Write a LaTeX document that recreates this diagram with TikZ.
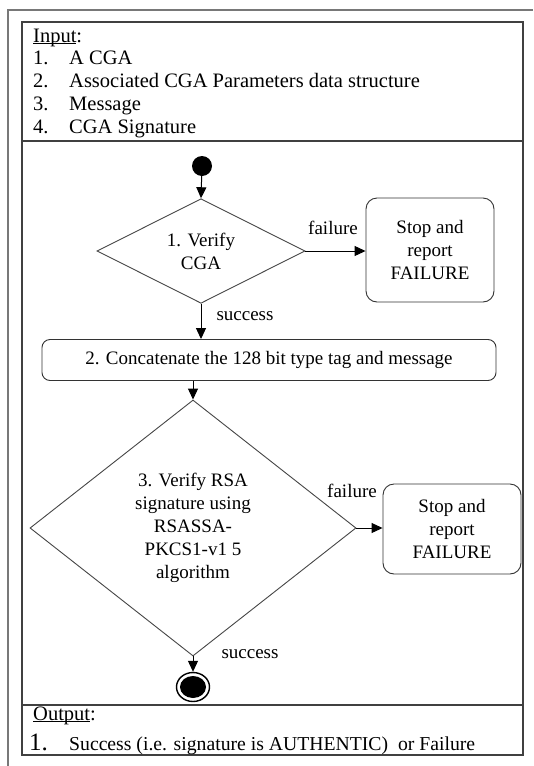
\documentclass[tikz,border=0pt]{standalone}
\usepackage{fontspec}
\setmainfont{Liberation Serif}
\usetikzlibrary{shapes.geometric,arrows.meta}

\definecolor{framegray}{RGB}{120,120,120}
\definecolor{linegray}{RGB}{70,70,70}

% underline set just below the baseline, through descenders
\newcommand\headul[1]{\setbox0\hbox{#1}\rlap{\rule[-2.2pt]{\wd0}{0.8pt}}\box0}

\begin{document}
\begin{tikzpicture}[x=1pt,y=-1pt,
  every node/.style={font=\fontsize{19}{23}\selectfont, inner sep=0pt},
  txt/.style={anchor=base west, font=\fontsize{20.5}{23}\selectfont},
  decision/.style={diamond, draw=linegray, line width=0.9pt, align=center, inner sep=0pt},
  actbox/.style={rectangle, rounded corners=11pt, draw=black!80, line width=0.9pt, align=center},
  flow/.style={-{Triangle[length=11pt,width=10pt]}, line width=1pt},
  lbl/.style={font=\fontsize{19}{23}\selectfont}
]
\useasboundingbox (0,0) rectangle (533,766);
\fill[white] (0,0) rectangle (533,766);

% page frame lines
\draw[framegray, line width=1.6pt] (8,766) -- (8,10) -- (533,10);

% outer table and its section rules
\draw[black!75, line width=1.1pt] (22,22) rectangle (523,755);
\draw[black!75, line width=1.1pt] (22,141) -- (523,141);
\draw[black!75, line width=1.1pt] (22,705) -- (523,705);

% input list
\node[txt] (inhead) at (33,42) {\headul{Input}:};
\node[txt] (n1) at (33,64) {1.};
\node[txt] (i1) at (69,64) {A CGA};
\node[txt] (n2) at (33,87) {2.};
\node[txt] (i2) at (69,87) {Associated CGA Parameters data structure};
\node[txt] (n3) at (33,110) {3.};
\node[txt] (i3) at (69,110) {Message};
\node[txt] (n4) at (33,133) {4.};
\node[txt] (i4) at (69,133) {CGA Signature};

% activity flow
\node[circle, fill=black, minimum size=20pt] (start) at (202,166) {};

\node[decision, minimum width=208pt, minimum height=100pt] (d1) at (201,251)
  {1. Verify\\CGA};

\node[actbox, minimum width=128pt, minimum height=104pt] (f1) at (430,250)
  {Stop and\\report\\FAILURE};

\node[actbox, rounded corners=8pt, minimum width=454pt, minimum height=41pt] (c2) at (269,360)
  {2. Concatenate the 128 bit type tag and message};

\node[decision, minimum width=326pt, minimum height=256pt] (d3) at (193,528)
  {3. Verify RSA\\signature using\\RSASSA-\\PKCS1-v1 5\\algorithm};

\node[actbox, minimum width=138pt, minimum height=90pt] (f3) at (452,529)
  {Stop and\\report\\FAILURE};

\node[ellipse, draw=black, line width=1.4pt, minimum width=33pt, minimum height=29pt] (stop) at (193,687) {};
\node[ellipse, fill=black, minimum width=26pt, minimum height=22pt] (stopin) at (stop) {};

% connectors
\draw[flow] (start) -- (d1.north);
\draw[flow] (d1.east) -- (f1.west |- d1.east);
\draw[flow] (d1.south) -- (d1.south |- c2.north);
\coordinate (c2out) at (c2.south -| d3.north);
\draw[flow] (c2out) -- (d3.north);
\draw[flow] (d3.east) -- (f3.west |- d3.east);
\draw[flow] (d3.south) -- (stop.north);

% branch labels
\node[lbl] (lf1) at (333,228) {failure};
\node[lbl] (ls1) at (245,316) {success};
\node[lbl] (lf3) at (352,491) {failure};
\node[lbl] (ls3) at (250,654) {success};

% output
\node[txt] (outhead) at (33,720) {\headul{Output}:};
\node[txt, font=\fontsize{25}{28}\selectfont] (o1n) at (29,750) {1.};
\node[txt, font=\fontsize{19.7}{23}\selectfont] (o1) at (69,750) {Success (i.e. signature is AUTHENTIC)\ \ or Failure};
\end{tikzpicture}
\end{document}
